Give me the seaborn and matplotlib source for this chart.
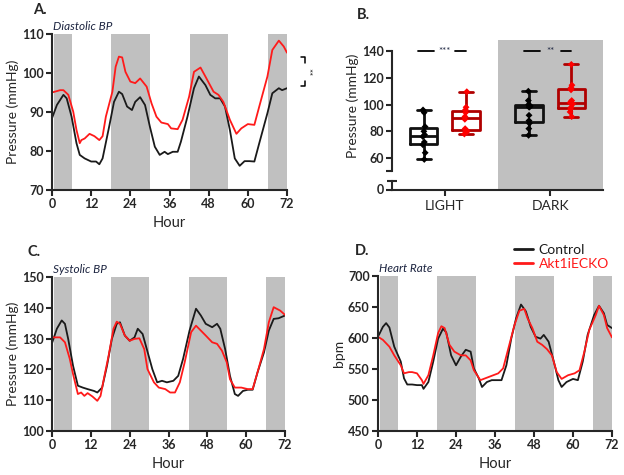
import matplotlib
matplotlib.use("Agg")
import matplotlib.pyplot as plt
import pandas as pd
import seaborn as sns

# ---- data ----
DARK_PERIODS = [(0.5, 6.2), (18.2, 30.0), (42.2, 54.0), (66.2, 72.0)]

# A. Diastolic BP
dia_ctrl_hours = [0, 1.5, 3.5, 4.5, 6, 7.5, 8.5, 10, 12, 13.5, 14.5, 15.5, 17.5, 19, 20.5,
                  21.5, 23, 24.5, 25.5, 27, 28.5, 30, 31.5, 33, 34.5, 35.5, 37, 38.5, 39.5, 41.5,
                  43.5, 45, 47, 48.5, 50, 51.5, 53, 54.5, 56, 57.5, 59, 60.5, 62, 63.5, 66,
                  67.5, 69.5, 70.5, 72]
dia_ctrl = [88.4, 91.8, 94.4, 93.5, 88.8, 82.0, 79.0, 78.1, 77.3, 77.3, 76.6, 78.1, 86.2, 92.6, 95.2,
            94.6, 91.4, 90.5, 92.6, 93.8, 91.8, 86.2, 81.1, 79.0, 79.8, 79.2, 79.8, 79.8, 82.4, 88.8,
            96.1, 99.1, 96.9, 94.4, 93.5, 93.5, 91.4, 85.4, 78.1, 76.2, 77.4, 77.4, 77.3, 82.0, 89.7,
            94.8, 96.1, 95.6, 96.1]
dia_ko_hours = [0, 2.5, 3.5, 5, 6.5, 7.5, 8.5, 9, 10, 11.5, 13, 14.5, 15.5, 16.5, 18.5,
                19.5, 20.5, 21.5, 22.5, 24, 25.5, 27, 29, 30.5, 32, 33.5, 35.5, 36.5, 38.5, 40,
                42, 43.5, 45.5, 47, 49.5, 51, 52.5, 54.5, 56.5, 58, 60, 62, 63.5, 66, 67.5,
                69.5, 71, 72]
dia_ko = [95.0, 95.6, 95.6, 94.4, 90.1, 85.4, 82.0, 82.8, 83.2, 84.4, 83.8, 82.8, 83.8, 88.8, 95.2,
          101.6, 104.2, 104.0, 100.3, 97.8, 97.4, 98.6, 96.5, 92.2, 88.8, 87.3, 86.9, 85.8, 85.6, 88.0,
          93.9, 100.3, 101.4, 99.1, 95.2, 94.4, 92.6, 88.0, 84.4, 85.8, 86.9, 86.7, 91.4, 99.1, 105.9,
          108.3, 106.8, 105.2]

# C. Systolic BP
sys_ctrl_hours = [0, 1.5, 3, 4, 5, 6.5, 8, 9.5, 11, 13, 14, 15.5, 17, 18.5, 20, 21, 22.5, 24, 25.5,
                  26.5, 28, 29, 31, 32.5, 34, 35.5, 37.5, 39, 40.5, 42.5, 44.5, 46, 47.5, 49.5,
                  51, 52, 53.5, 55, 56.5, 57.5, 59, 60.5, 62, 63.5, 65.5, 67, 68.5, 70, 72]
sys_ctrl = [128.5, 133.2, 135.9, 134.8, 129.9, 121.2, 114.7, 114.1, 113.6, 113.0, 112.5, 114.1, 121.2,
            129.9, 134.8, 135.3, 131.0, 129.3, 130.4, 133.2, 131.5, 127.7, 120.1, 115.8, 116.3, 115.8,
            116.3, 117.9, 123.4, 132.6, 139.7, 137.5, 134.8, 133.7, 134.8, 133.2, 126.6, 117.9, 112.0,
            111.4, 113.0, 113.4, 113.4, 119.0, 125.5, 132.6, 136.4, 136.6, 137.5]
sys_ko_hours = [0, 2.5, 4, 5.5, 6.5, 8, 9, 10, 11, 12.5, 14, 15, 16, 17.5, 19, 20, 21, 22.5, 24,
                25.5, 27, 28.5, 29.5, 31.5, 33, 35, 36.5, 38, 39.5, 41, 43, 44.5, 46, 47.5, 49.5,
                51, 52.5, 54, 55, 56.5, 58.5, 60.5, 62, 63.5, 65.5, 67, 68.5, 70.5, 72]
sys_ko = [130.4, 130.4, 128.8, 123.4, 118.5, 112.0, 112.5, 111.4, 112.3, 111.2, 109.8, 111.4, 116.8,
          124.5, 133.2, 135.5, 134.8, 131.0, 129.3, 129.9, 130.1, 126.6, 120.1, 115.8, 114.1, 113.6,
          112.5, 112.5, 115.8, 122.3, 132.1, 134.2, 132.6, 131.0, 128.8, 128.3, 126.1, 122.3, 116.8,
          114.1, 114.1, 113.6, 113.6, 119.0, 126.6, 135.3, 140.2, 139.1, 137.7]

# D. Heart rate
hr_ctrl_hours = [0, 1.5, 2.5, 3.5, 5, 7, 8, 9, 10.5, 12, 13.5, 14, 15.5, 17, 18.5, 20, 21, 22.5,
                 24, 25.5, 27, 28.5, 29.5, 31, 32, 33.5, 35, 36.5, 38, 39.5, 41, 42.5, 44, 45.5,
                 47, 48.5, 50, 51, 52.5, 54, 55.5, 56.5, 58, 60, 61.5, 63, 64.5, 66.5, 68, 69.5,
                 70.5, 72]
hr_ctrl = [602, 618, 624, 617, 586, 562, 535, 525, 525, 524, 524, 518, 529, 562, 599, 615, 609, 572,
           556, 570, 581, 578, 551, 535, 521, 529, 532, 532, 532, 556, 599, 632, 654, 643, 618, 602,
           599, 605, 594, 564, 532, 521, 529, 534, 532, 562, 605, 637, 652, 640, 621, 616]
hr_ko_hours = [0, 1.5, 3.5, 5, 7, 8, 9.5, 10.5, 12, 13.5, 14, 15.5, 17, 18.5, 19.5, 20.5, 22,
               23.5, 25.5, 27, 28.5, 29.5, 31.5, 33.5, 35.5, 37, 38.5, 40, 42, 43.5, 45, 46, 47.5,
               49, 50.5, 52, 53.5, 55, 56.5, 58.5, 60.5, 62, 63.5, 65, 67, 68, 69.5, 70.5, 72]
hr_ko = [602, 597, 586, 572, 556, 543, 545, 545, 543, 532, 526, 540, 572, 608, 619, 616, 589, 578,
         572, 572, 564, 548, 532, 536, 540, 543, 551, 581, 621, 644, 647, 632, 616, 594, 589, 582,
         572, 545, 534, 540, 543, 548, 578, 613, 637, 652, 637, 616, 601]

# B. Individual animals, diastolic BP by phase
box_phase = ["LIGHT", "DARK"]
light_ctrl = [59, 64, 70, 72, 76, 77.5, 80, 83.5, 94, 96]
light_ko = [78, 80, 81, 82, 89, 91, 94, 96, 98, 109.6]
dark_ctrl = [77, 82, 86, 88, 92, 98, 98.5, 99, 100, 103, 110]
dark_ko = [91, 94.5, 96.5, 98, 100.5, 101.5, 103, 111, 112.5, 114.5, 130]
sig_labels = ["***", "**"]

GROUPS = ["Control", "Akt1iECKO"]
LINE_COLORS = {"Control": "#1a1a1a", "Akt1iECKO": "#ff1a1a"}
BOX_COLORS = {"Control": "#111111", "Akt1iECKO": "#b00000"}
DOT_COLORS = {"Control": "#000000", "Akt1iECKO": "#ff0000"}
SHADE = "#c0c0c0"

sns.set_style("ticks")
plt.rcParams["font.family"] = ["Lato", "DejaVu Sans"]
plt.rcParams["axes.linewidth"] = 1.5
plt.rcParams["xtick.major.width"] = 1.5
plt.rcParams["ytick.major.width"] = 1.5
plt.rcParams["xtick.major.size"] = 4
plt.rcParams["ytick.major.size"] = 4

fig = plt.figure(figsize=(6.24, 4.75), dpi=100)
W, H = 624.0, 475.0


def add_axes(left, top, right, bottom):
    return fig.add_axes([left / W, 1 - bottom / H, (right - left) / W, (bottom - top) / H])


def long_frame(ctrl_h, ctrl_v, ko_h, ko_v):
    a = pd.DataFrame({"Hour": ctrl_h, "value": ctrl_v, "group": "Control"})
    b = pd.DataFrame({"Hour": ko_h, "value": ko_v, "group": "Akt1iECKO"})
    return pd.concat([a, b], ignore_index=True)


def time_panel(ax, df, ylim, ystep, ylabel, title, legend=False):
    for start, end in DARK_PERIODS:
        ax.axvspan(start, end, color=SHADE, lw=0, zorder=0)
    sns.lineplot(data=df, x="Hour", y="value", hue="group", hue_order=GROUPS,
                 palette=LINE_COLORS, estimator=None, sort=True, lw=1.3, ax=ax,
                 legend=legend)
    ax.set_xlim(0, 72)
    ax.set_ylim(*ylim)
    ax.set_xticks(range(0, 73, 12))
    ax.set_yticks(range(ylim[0], ylim[1] + 1, ystep))
    ax.set_xlabel("Hour", fontsize=10.5, labelpad=4)
    ax.set_ylabel(ylabel, fontsize=10, labelpad=2)
    ax.tick_params(labelsize=9, pad=2)
    for lab in ax.get_xticklabels() + ax.get_yticklabels():
        lab.set_fontweight("bold")
    sns.despine(ax=ax)
    ax.text(0.005, 1.015, title, transform=ax.transAxes, fontsize=8.5,
            style="italic", color="#1c2440", va="bottom", ha="left")


# ---- A. Diastolic ----
ax_a = add_axes(52, 34, 287, 190)
time_panel(ax_a, long_frame(dia_ctrl_hours, dia_ctrl, dia_ko_hours, dia_ko),
           (70, 110), 10, "Pressure (mmHg)", "Diastolic BP")
# significance bracket between the two traces
ax_a.plot([76.4, 77.6, 77.6], [104, 104, 102.6], color="black", lw=1.1, clip_on=False)
ax_a.plot([76.4, 77.6, 77.6], [96.6, 96.6, 98.0], color="black", lw=1.1, clip_on=False)
ax_a.text(78.1, 100.3, "**", rotation=-90, fontsize=7, ha="center", va="center")

# ---- C. Systolic ----
ax_c = add_axes(52, 277, 285, 431)
time_panel(ax_c, long_frame(sys_ctrl_hours, sys_ctrl, sys_ko_hours, sys_ko),
           (100, 150), 10, "Pressure (mmHg)", "Systolic BP")

# ---- D. Heart rate ----
ax_d = add_axes(378, 276, 612, 431)
time_panel(ax_d, long_frame(hr_ctrl_hours, hr_ctrl, hr_ko_hours, hr_ko),
           (450, 700), 50, "bpm", "Heart Rate", legend=True)
leg = ax_d.legend(loc="upper left", bbox_to_anchor=(508 / W, 1 - 238 / H),
                  bbox_transform=fig.transFigure, frameon=False, fontsize=10,
                  handlelength=1.4, handletextpad=0.4, labelspacing=0.15,
                  borderaxespad=0)
for line in leg.get_lines():
    line.set_linewidth(2)
for text, grp in zip(leg.get_texts(), GROUPS):
    text.set_color(LINE_COLORS[grp])

# ---- B. Box plot with broken y axis ----
rows = []
for phase, ctrl, ko in [("LIGHT", light_ctrl, light_ko), ("DARK", dark_ctrl, dark_ko)]:
    rows += [{"phase": phase, "group": "Control", "Pressure": v} for v in ctrl]
    rows += [{"phase": phase, "group": "Akt1iECKO", "Pressure": v} for v in ko]
box_df = pd.DataFrame(rows)

ax_b = add_axes(392, 40.3, 603, 171.5)
ax_b0 = add_axes(392, 171.5, 603, 189.5)
for ax in (ax_b, ax_b0):
    ax.axvspan(0.5, 1.5, color=SHADE, lw=0, zorder=0)
    ax.patch.set_alpha(0)

sns.boxplot(data=box_df, x="phase", y="Pressure", hue="group", order=box_phase,
            hue_order=GROUPS, palette=BOX_COLORS, fill=False, whis=(0, 100),
            gap=0.35, linewidth=2, legend=False, ax=ax_b)
sns.stripplot(data=box_df, x="phase", y="Pressure", hue="group", order=box_phase,
              hue_order=GROUPS, palette=DOT_COLORS, dodge=True, jitter=0.03,
              size=3.5, marker="D", legend=False, ax=ax_b)
ax_b.set_xlim(-0.5, 1.5)
ax_b.set_ylim(50, 148)
ax_b.set_yticks([50, 60, 80, 100, 120, 140])
ax_b.set_yticklabels(["", "60", "80", "100", "120", "140"])
ax_b.set_xticks([])
ax_b.set_xlabel("")
ax_b.set_ylabel("Pressure (mmHg)", fontsize=10, labelpad=2)
ax_b.tick_params(labelsize=9, pad=2)
for lab in ax_b.get_yticklabels():
    lab.set_fontweight("bold")
sns.despine(ax=ax_b, bottom=True)
ax_b.spines["left"].set_bounds(50, 140)

# significance markers above each pair
for i, label in enumerate(sig_labels):
    ax_b.plot([i - 0.25, i - 0.1], [140, 140], color="black", lw=1.3)
    ax_b.plot([i + 0.1, i + 0.2], [140, 140], color="black", lw=1.3)
    ax_b.text(i, 140, label, fontsize=7, ha="center", va="center", color="#1c2440")

ax_b0.set_xlim(-0.5, 1.5)
ax_b0.set_ylim(0, 10)
ax_b0.set_xticks([0, 1])
ax_b0.set_xticklabels(box_phase, fontsize=10)
ax_b0.set_yticks([0])
ax_b0.set_yticklabels(["0"], fontsize=9, fontweight="bold")
ax_b0.tick_params(axis="y", pad=2)
ax_b0.set_yticks([4.9], minor=True)
ax_b0.tick_params(axis="y", which="minor", direction="inout", length=7, width=1.5)
sns.despine(ax=ax_b0)
ax_b0.spines["left"].set_bounds(0, 4.9)

# ---- panel letters ----
for x, y, letter in [(33, 10, "A."), (357, 15, "B."), (27, 252, "C."), (355, 251, "D.")]:
    fig.text(x / W, 1 - y / H, letter, fontsize=10.5, fontweight="bold", va="center")

fig.savefig("out.png", dpi=100)
